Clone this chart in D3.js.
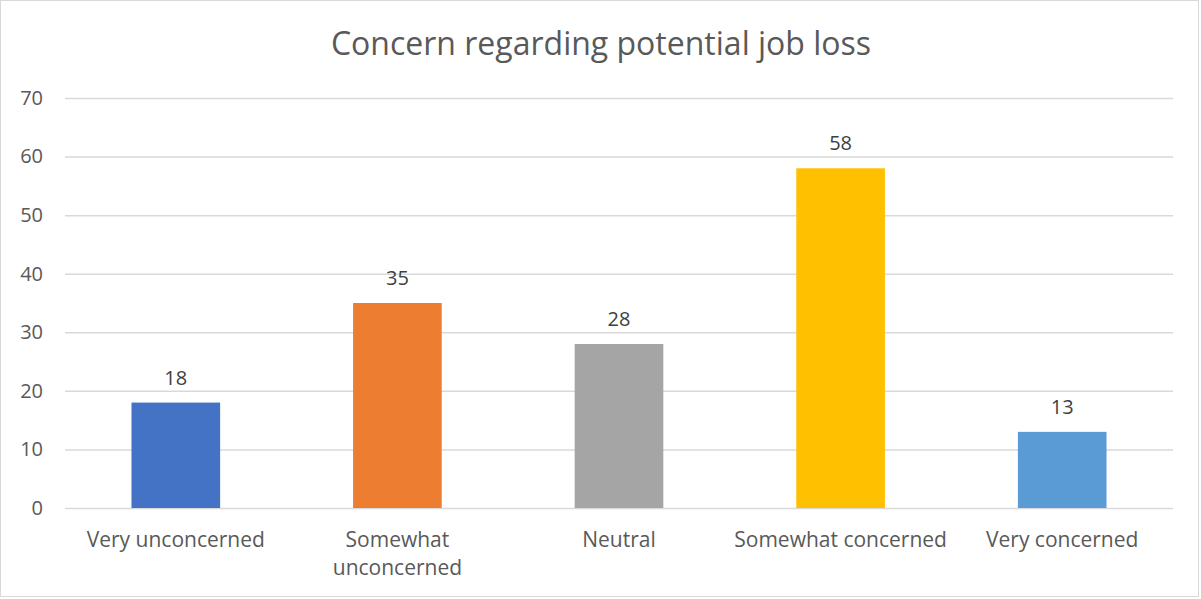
<!DOCTYPE html>
<html>
<head>
<meta charset="utf-8">
<script src="https://cdn.jsdelivr.net/npm/d3@7"></script>
<style>
  html, body { margin: 0; padding: 0; background: #fff; }
  svg { display: block; }
</style>
</head>
<body>
<svg id="chart" width="1201" height="599"></svg>
<script>
// Survey responses: concern regarding potential job loss
const categories = ["Very unconcerned", "Somewhat unconcerned", "Neutral", "Somewhat concerned", "Very concerned"];
const categoryLines = [["Very unconcerned"], ["Somewhat", "unconcerned"], ["Neutral"], ["Somewhat concerned"], ["Very concerned"]];
const values = [18, 35, 28, 58, 13];
const barColors = ["#4472c4", "#ed7d31", "#a5a5a5", "#ffc000", "#5b9bd5"];
const yTicks = [0, 10, 20, 30, 40, 50, 60, 70];
const titleText = "Concern regarding potential job loss";

const W = 1201, H = 599;
const margin = { left: 65, right: 28, top: 98, bottom: 90 };
const font = "'Open Sans', 'Noto Sans', sans-serif";

const svg = d3.select("#chart");

// outer chart border
svg.append("rect")
  .attr("x", 0.5).attr("y", 0.5)
  .attr("width", W - 3).attr("height", H - 3)
  .attr("fill", "#fff").attr("stroke", "#d9d9d9").attr("stroke-width", 1);

const x = d3.scaleBand()
  .domain(categories)
  .range([margin.left, W - margin.right])
  .paddingInner(0.6).paddingOuter(0.3);

const y = d3.scaleLinear()
  .domain([0, 70])
  .range([H - margin.bottom - 1, margin.top]);

// title
svg.append("text")
  .attr("x", 601).attr("y", 55)
  .attr("text-anchor", "middle")
  .attr("font-family", font).attr("font-size", 32)
  .attr("fill", "#595959")
  .text(titleText);

// gridlines and y tick labels via axis
const yAxis = d3.axisLeft(y)
  .tickValues(yTicks)
  .tickSize(-(W - margin.right - margin.left))
  .tickPadding(22)
  .tickFormat(d3.format("d"));

const gy = svg.append("g")
  .attr("transform", `translate(${margin.left},0)`)
  .call(yAxis);
gy.select(".domain").remove();
gy.selectAll(".tick line").attr("stroke", "#d9d9d9").attr("stroke-width", 1.5);
gy.selectAll(".tick text")
  .attr("font-family", font).attr("font-size", 20)
  .attr("fill", "#595959");

// bars
svg.append("g").selectAll("rect")
  .data(values)
  .join("rect")
  .attr("x", (d, i) => x(categories[i]))
  .attr("y", d => y(d))
  .attr("width", x.bandwidth())
  .attr("height", d => y(0) - y(d))
  .attr("fill", (d, i) => barColors[i]);

// value labels
svg.append("g").selectAll("text")
  .data(values)
  .join("text")
  .attr("x", (d, i) => x(categories[i]) + x.bandwidth() / 2)
  .attr("y", d => y(d) - 18)
  .attr("text-anchor", "middle")
  .attr("font-family", font).attr("font-size", 20)
  .attr("fill", "#404040")
  .text(d => d);

// category labels
const xl = svg.append("g").selectAll("text")
  .data(categories)
  .join("text")
  .attr("x", d => x(d) + x.bandwidth() / 2)
  .attr("y", 547)
  .attr("text-anchor", "middle")
  .attr("font-family", font).attr("font-size", 21)
  .attr("fill", "#595959");
xl.each(function(d, i) {
  const t = d3.select(this);
  categoryLines[i].forEach((line, j) => {
    t.append("tspan")
      .attr("x", x(d) + x.bandwidth() / 2)
      .attr("dy", j === 0 ? 0 : 28)
      .text(line);
  });
});
</script>
</body>
</html>
